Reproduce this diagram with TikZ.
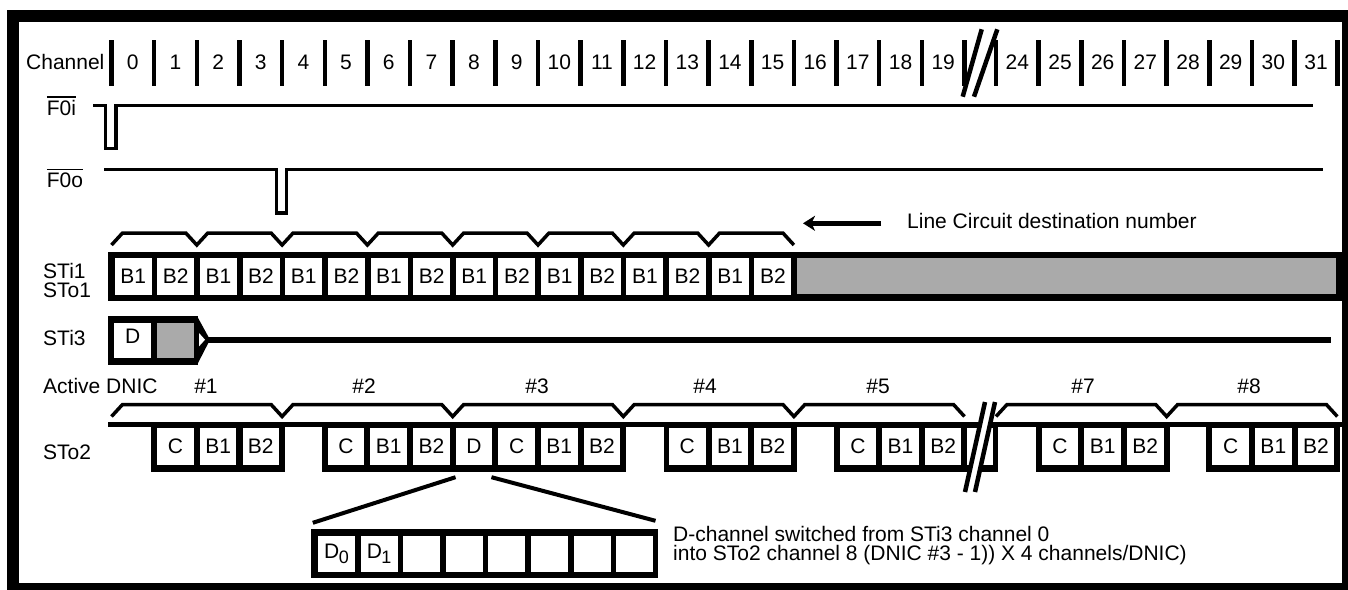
\documentclass[tikz,border=0pt]{standalone}
\usepackage{fontspec}
\setmainfont{Liberation Sans}
\usetikzlibrary{arrows.meta}
\definecolor{cellgray}{RGB}{170,170,170}
\newcommand{\ovtext}[1]{\vbox{\hrule height 1.6pt\kern 2pt\hbox{#1}}}
\tikzset{
  txt/.style={inner sep=0pt, font=\fontsize{21}{18}\selectfont},
  chbar/.style={line width=4.5pt},
  sig/.style={line width=3.5pt, line join=miter},
  brc/.style={line width=3.5pt, line join=miter},
  cell/.style={fill=white, inner sep=0pt, minimum width=37pt, minimum height=36.5pt, font=\fontsize{21}{18}\selectfont},
  gcell/.style={cell, fill=cellgray},
  slash/.style={line width=4.5pt},
  zline/.style={line width=4pt},
}
\begin{document}
\begin{tikzpicture}[x=1pt,y=-1pt]
\useasboundingbox (0,0) rectangle (1348,589);
\begin{scope}
  \clip (0,0) rectangle (1348,589);
  \draw[line width=12pt] (13,15.5) rectangle (1348,589);
\end{scope}

% ---------- channel row ----------
\node[txt, anchor=base west] (chlab) at (26,69.5) {Channel};
\foreach \k in {0,...,20} \draw[chbar] ({111.5+42.65*\k},40) -- ({111.5+42.65*\k},86);
\foreach \k in {0,...,19} \node[txt, anchor=base] (ch\k) at ({111.5+42.65*(\k+0.5)},69.5) {\k};
\foreach \i in {0,...,8} \draw[chbar] ({996+42.67*\i},40) -- ({996+42.67*\i},86);
\foreach \n [count=\i from 0] in {24,...,31} \node[txt, anchor=base] (ch\n) at ({996+42.67*(\i+0.5)},69.5) {\n};
\draw[slash] (962.7,96.7) -- (981.7,29.3);
\draw[slash] (974,96.7) -- (997.3,29.3);

% ---------- frame pulses ----------
\node[txt, anchor=base west] (f0i) at (46.7,115) {\ovtext{F0i}};
\draw[sig] (93,105.7) -- (105.3,105.7) -- (105.3,148.3) -- (115.8,148.3) -- (115.8,105.7) -- (1313,105.7);
\node[txt, anchor=base west] (f0o) at (46.7,187) {\ovtext{F0o}};
\draw[sig] (104.3,169.7) -- (276.7,169.7) -- (276.7,212.8) -- (286.7,212.8) -- (286.7,169.7) -- (1323.3,169.7);

% ---------- line circuit braces ----------
\draw[brc] (111.5,245) \foreach \k in {1,...,8} { -- ({111.5+85.3*(\k-1)+11},233) -- ({111.5+85.3*\k-11},233) -- ({111.5+85.3*\k},245) };
\node[txt, anchor=base west] (lcd) at (907,228) {Line Circuit destination number};
\coordinate (arrstart) at (881,223.3);
\coordinate (arrend) at (803,223.3);
\draw[line width=4.5pt, -{Stealth[length=12pt,width=15pt,inset=3.5pt]}] (arrstart) -- (arrend);

% ---------- STi1 / STo1 ----------
\node[txt, anchor=base west] (sti1) at (43,278.5) {STi1};
\node[txt, anchor=base west] (sto1) at (43,297) {STo1};
\fill (108,252) rectangle (1342,300.5);
\foreach \k in {0,2,...,14} \node[cell] (a\k) at ({111.5+42.65*\k+21.6},276.3) {B1};
\foreach \k in {1,3,...,15} \node[cell] (a\k) at ({111.5+42.65*\k+21.6},276.3) {B2};
\fill[cellgray] (797,258.3) rectangle (1335.5,294.3);

% ---------- STi3 ----------
\node[txt, anchor=base west] (sti3) at (43,345.5) {STi3};
\fill (108,316) rectangle (198,365);
\fill (197,316) -- (210,339.7) -- (197,365) -- cycle;
\node[cell, minimum height=35pt, text depth=9pt] (sti3d) at (132.8,340.5) {D};
\node[gcell, minimum height=35pt] (sti3g) at (175.4,340.5) {};
\fill[white] (199,333) -- (205,339.7) -- (199,346.4) -- cycle;
\draw[line width=6pt] (208,339.7) -- (1330.7,339.7);

% ---------- Active DNIC ----------
\node[txt, anchor=base west] (adnic) at (43,393) {Active DNIC};
\foreach \n/\x in {1/206,2/364,3/537,4/705,5/878,7/1083,8/1249}
  \node[txt, anchor=base] (dn\n) at (\x,393) {\#\n};
\draw[brc] (111.5,416.5) \foreach \k in {1,...,5} { -- ({111.5+170.6*(\k-1)+11},404.5) -- ({111.5+170.6*\k-11},404.5) -- ({111.5+170.6*\k},416.5) };
\draw[brc] (996,416.5) \foreach \k in {1,2} { -- ({996+170.67*(\k-1)+11},404.5) -- ({996+170.67*\k-11},404.5) -- ({996+170.67*\k},416.5) };

% ---------- STo2 ----------
\node[txt, anchor=base west] (sto2) at (43,459.5) {STo2};
\draw[line width=5pt] (108,424.5) -- (1342,424.5);
\fill (151.1,422) rectangle (285.1,471.7);
\fill (321.7,422) rectangle (626.3,471.7);
\fill (663.9,422) rectangle (796.9,471.7);
\fill (833.5,422) rectangle (998.3,471.7);
\fill (1035.7,422) rectangle (1169.7,471.7);
\fill (1206.3,422) rectangle (1340.3,471.7);
\foreach \c/\t in {1/C,2/B1,3/B2,5/C,6/B1,7/B2,8/D,9/C,10/B1,11/B2,13/C,14/B1,15/B2,17/C,18/B1,19/B2}
  \node[cell, minimum width=36.5pt, minimum height=37pt] (b\c) at ({111.5+42.65*\c+21.3},446.5) {\t};
\foreach \c/\t in {25/C,26/B1,27/B2,29/C,30/B1,31/B2}
  \node[cell, minimum width=36.5pt, minimum height=37pt] (b\c) at ({996+42.67*(\c-24)+21.3},446.5) {\t};
\fill[white] (967,428) rectangle (993.3,465);
\draw[white, line width=6pt] (970,492) -- (990,402);
\draw[slash] (965,492) -- (985,402);
\draw[slash] (975,492) -- (995,402);

% ---------- D channel bits ----------
\node[fill=black, inner sep=0pt, minimum width=347.3pt, minimum height=49pt] (bits) at (484.65,553.5) {};
\node[cell, minimum height=36pt] (bit0) at ({318+18.5},553.8) {D\kern-0.5pt\raisebox{-5pt}{\fontsize{18}{18}\selectfont 0}};
\node[cell, minimum height=36pt] (bit1) at ({318+42.6+18.5},553.8) {D\kern-0.5pt\raisebox{-5pt}{\fontsize{18}{18}\selectfont 1}};
\foreach \i in {2,...,7} \node[cell, minimum height=36pt] (bit\i) at ({318+42.6*\i+18.5},553.8) {};
\draw[zline] ([yshift=-12pt]b8.south west) -- ([shift={(2pt,6pt)}]bits.north west);
\draw[zline] ([shift={(-1pt,-12pt)}]b8.south east) -- ([shift={(-3pt,8pt)}]bits.north east);
\node[txt, anchor=base west] (note1) at (673,541) {D-channel switched from STi3 channel 0};
\node[txt, anchor=base west] (note2) at (673,560.5) {into STo2 channel 8 (DNIC \#3 - 1)) X 4 channels/DNIC)};
\end{tikzpicture}
\end{document}
